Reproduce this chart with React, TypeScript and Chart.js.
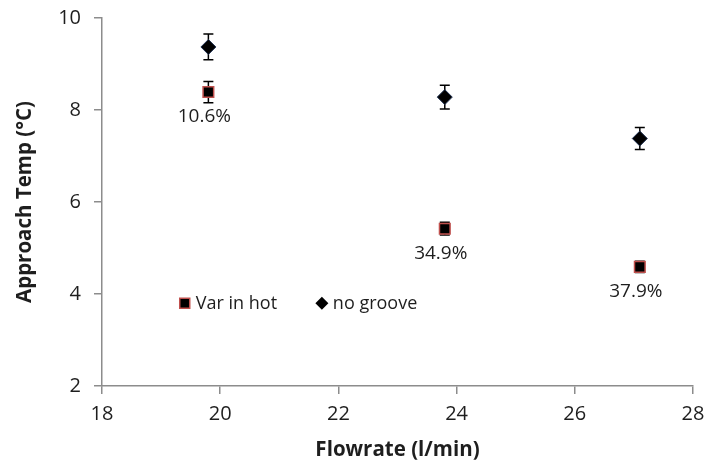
import React, { useEffect, useRef } from 'react';
import { Chart, registerables } from 'chart.js';

Chart.register(...registerables);

// measured flowrates (l/min)
const flowrate = [19.8, 23.8, 27.1];
// approach temperature (°C) for each configuration
const varInHot = [8.39, 5.42, 4.59];
const varInHotErr = [0.23, 0.14, 0.12];
const noGroove = [9.37, 8.28, 7.38];
const noGrooveErr = [0.28, 0.26, 0.24];
// reduction vs. no groove
const reductionLabels = ['10.6%', '34.9%', '37.9%'];
const seriesNames = ['Var in hot', 'no groove'];

const FONT = '"Open Sans", "Liberation Sans", sans-serif';
const AXIS_GREY = '#8c8c8c';
const TEXT = '#1e1e1e';
const SQUARE_EDGE = '#c0504d';
const DIAMOND_EDGE = '#1f3050';

const errorBars = {
    id: 'errorBars',
    beforeDatasetsDraw(chart: any) {
        const { ctx, scales: { x, y } } = chart;
        chart.data.datasets.forEach((ds: any) => {
            if (!ds.errors) return;
            ctx.save();
            ctx.strokeStyle = '#000';
            ctx.lineWidth = 1.5;
            ds.data.forEach((p: any, j: number) => {
                const px = x.getPixelForValue(p.x);
                const top = y.getPixelForValue(p.y + ds.errors[j]);
                const bot = y.getPixelForValue(p.y - ds.errors[j]);
                ctx.beginPath();
                ctx.moveTo(px, top); ctx.lineTo(px, bot);
                ctx.moveTo(px - 5, top); ctx.lineTo(px + 5, top);
                ctx.moveTo(px - 5, bot); ctx.lineTo(px + 5, bot);
                ctx.stroke();
            });
            ctx.restore();
        });
    }
};

const pointLabels = {
    id: 'pointLabels',
    afterDatasetsDraw(chart: any) {
        const { ctx, scales: { x, y } } = chart;
        const ds: any = chart.data.datasets[0];
        ctx.save();
        ctx.font = `19px ${FONT}`;
        ctx.fillStyle = TEXT;
        ctx.textAlign = 'center';
        ctx.textBaseline = 'middle';
        ds.data.forEach((p: any, j: number) => {
            ctx.fillText(reductionLabels[j], x.getPixelForValue(p.x) - 4, y.getPixelForValue(p.y) + 25);
        });
        ctx.restore();
    }
};

// legend sits inside the plot, anchored on data coordinates
const innerLegend = {
    id: 'innerLegend',
    afterDraw(chart: any) {
        const { ctx, scales: { x, y } } = chart;
        const anchors = [19.4, 21.72];
        const ly = y.getPixelForValue(3.8);
        ctx.save();
        ctx.font = `18px ${FONT}`;
        ctx.textBaseline = 'middle';
        ctx.textAlign = 'left';
        anchors.forEach((ax, i) => {
            const lx = x.getPixelForValue(ax);
            ctx.beginPath();
            if (i === 0) {
                ctx.rect(lx - 5, ly - 5, 10, 10);
                ctx.fillStyle = '#000';
                ctx.fill();
                ctx.strokeStyle = SQUARE_EDGE;
                ctx.lineWidth = 1.5;
                ctx.stroke();
            } else {
                ctx.moveTo(lx, ly - 6.5); ctx.lineTo(lx + 6.5, ly);
                ctx.lineTo(lx, ly + 6.5); ctx.lineTo(lx - 6.5, ly);
                ctx.closePath();
                ctx.fillStyle = '#000';
                ctx.fill();
            }
            ctx.fillStyle = TEXT;
            ctx.fillText(seriesNames[i], lx + 11, ly + 1);
        });
        ctx.restore();
    }
};

const App: React.FC = () => {
    const canvasRef = useRef<HTMLCanvasElement | null>(null);

    useEffect(() => {
        document.body.style.margin = '0';
        if (!canvasRef.current) return;
        const chart = new Chart(canvasRef.current, {
            type: 'scatter',
            data: {
                datasets: [
                    {
                        label: seriesNames[0],
                        data: flowrate.map((f, i) => ({ x: f, y: varInHot[i] })),
                        errors: varInHotErr,
                        pointStyle: 'rect',
                        pointRadius: 7.5,
                        backgroundColor: '#000',
                        borderColor: SQUARE_EDGE,
                        borderWidth: 1.5
                    } as any,
                    {
                        label: seriesNames[1],
                        data: flowrate.map((f, i) => ({ x: f, y: noGroove[i] })),
                        errors: noGrooveErr,
                        pointStyle: 'rectRot',
                        pointRadius: 7.5,
                        backgroundColor: '#000',
                        borderColor: DIAMOND_EDGE,
                        borderWidth: 1
                    } as any
                ]
            },
            options: {
                responsive: true,
                maintainAspectRatio: false,
                animation: false,
                layout: { padding: 0 },
                plugins: { legend: { display: false }, tooltip: { enabled: false } },
                scales: {
                    x: {
                        type: 'linear',
                        min: 18,
                        max: 28,
                        afterFit: (s: any) => { s.height = 77; s.paddingRight = 14; s.paddingLeft = 0; },
                        ticks: { stepSize: 2, padding: 8, color: TEXT, font: { family: FONT, size: 20 } },
                        grid: { drawOnChartArea: false, tickLength: 8, color: AXIS_GREY, lineWidth: 1.5 },
                        border: { color: AXIS_GREY, width: 1.5 },
                        title: { display: true, text: 'Flowrate (l/min)', color: TEXT, padding: { top: 0, bottom: 1 }, font: { family: FONT, size: 20.5, weight: 'bold' } }
                    },
                    y: {
                        min: 2,
                        max: 10,
                        afterFit: (s: any) => { s.width = 102; s.paddingTop = 18; s.paddingBottom = 0; },
                        ticks: { stepSize: 2, padding: 13, color: TEXT, font: { family: FONT, size: 20 } },
                        grid: { drawOnChartArea: false, tickLength: 8, color: AXIS_GREY, lineWidth: 1.5 },
                        border: { color: AXIS_GREY, width: 1.5 },
                        title: { display: true, text: 'Approach Temp (°C)', color: TEXT, padding: { top: 13, bottom: 0 }, font: { family: FONT, size: 20.5, weight: 'bold' } }
                    }
                }
            },
            plugins: [errorBars, pointLabels, innerLegend]
        });
        return () => chart.destroy();
    }, []);

    return (
        <div style={{ width: 707, height: 463, position: 'relative', background: '#fff' }}>
            <canvas ref={canvasRef}></canvas>
        </div>
    );
};

export default App;
